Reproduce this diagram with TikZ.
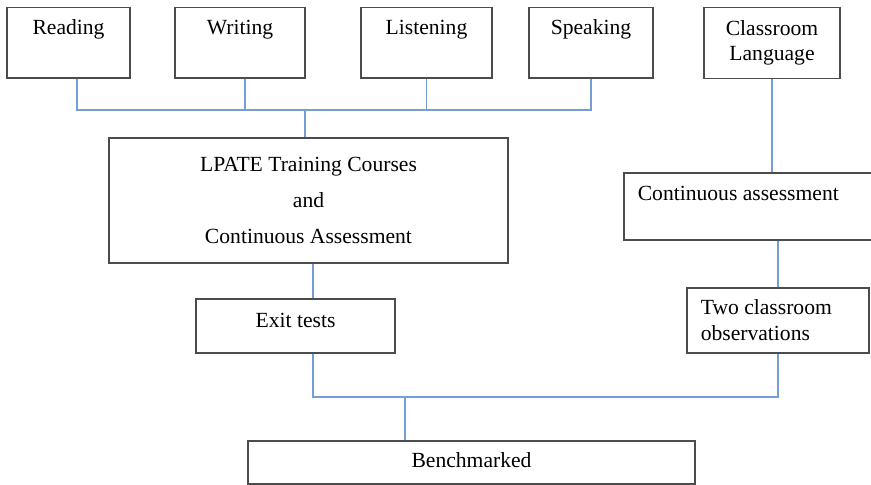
\documentclass[tikz,border=0pt]{standalone}
\usepackage{fontspec}
\setmainfont{Liberation Serif}
\definecolor{linkblue}{RGB}{118,158,214}

\begin{document}
\begin{tikzpicture}[x=0.5pt, y=-0.5pt,
        box/.style={draw=black!70, line width=0.8pt, inner sep=0pt,
          font=\fontsize{10.8}{12.8}\selectfont},
        topbox/.style={box, anchor=north, text height=13.5pt, text depth=21.75pt},
        link/.style={draw=linkblue, line width=0.7pt}]
  \useasboundingbox (0,0) rectangle (871,484);
  \node[topbox, minimum width=61.5pt] (reading) at (68.5,6.5) {Reading};
  \node[topbox, minimum width=65pt] (writing) at (240,6.5) {Writing};
  \node[topbox, minimum width=65.5pt] (listening) at (426.5,6.5) {Listening};
  \node[topbox, minimum width=62pt] (speaking) at (591,6.5) {Speaking};
  \node[box, anchor=north, minimum width=68pt, minimum height=35.5pt, align=center]
    (classroom) at (772,6.5) {Classroom\\Language};
  \node[box, minimum width=199.5pt, minimum height=62.5pt, align=center] (lpate) at (308.5,200.5)
    {LPATE Training Courses\\[5pt]and\\[5pt]Continuous Assessment};
  \node[box, anchor=north west, inner xsep=7pt, text width=124.5pt, align=flush left,
    text height=14pt, text depth=19.5pt] (contass) at (623,172) {Continuous assessment};
  \node[box, anchor=north, minimum width=99.5pt, text height=14.5pt, text depth=12.5pt]
    (exit) at (295.5,298) {Exit tests};
  \node[box, anchor=north west, inner xsep=7pt, text width=77pt, minimum height=32.5pt,
    align=flush left] (observ) at (686,287) {Two classroom\\observations};
  \node[box, anchor=north, minimum width=223.5pt, text height=13.5pt, text depth=8pt]
    (bench) at (471.5,440) {Benchmarked};

  \coordinate (bus) at (305,110);
  \coordinate (exitcol) at (313,0);
  \coordinate (join) at (405,397);
  \draw[link] ([xshift=4.25pt]reading.south) |- (bus) -| (speaking.south);
  \draw[link] ([xshift=2.5pt]writing.south) |- (bus);
  \draw[link] (listening.south) |- (bus);
  \draw[link] (bus) -- (bus |- lpate.north);
  \draw[link] (classroom.south) -- (classroom.south |- contass.north);
  \draw[link] (contass.south -| observ.north) -- (observ.north);
  \draw[link] (lpate.south -| exitcol) -- (exit.north -| exitcol);
  \draw[link] (exit.south -| exitcol) |- (join) -| (observ.south);
  \draw[link] (join) -- (join |- bench.north);
\end{tikzpicture}
\end{document}
